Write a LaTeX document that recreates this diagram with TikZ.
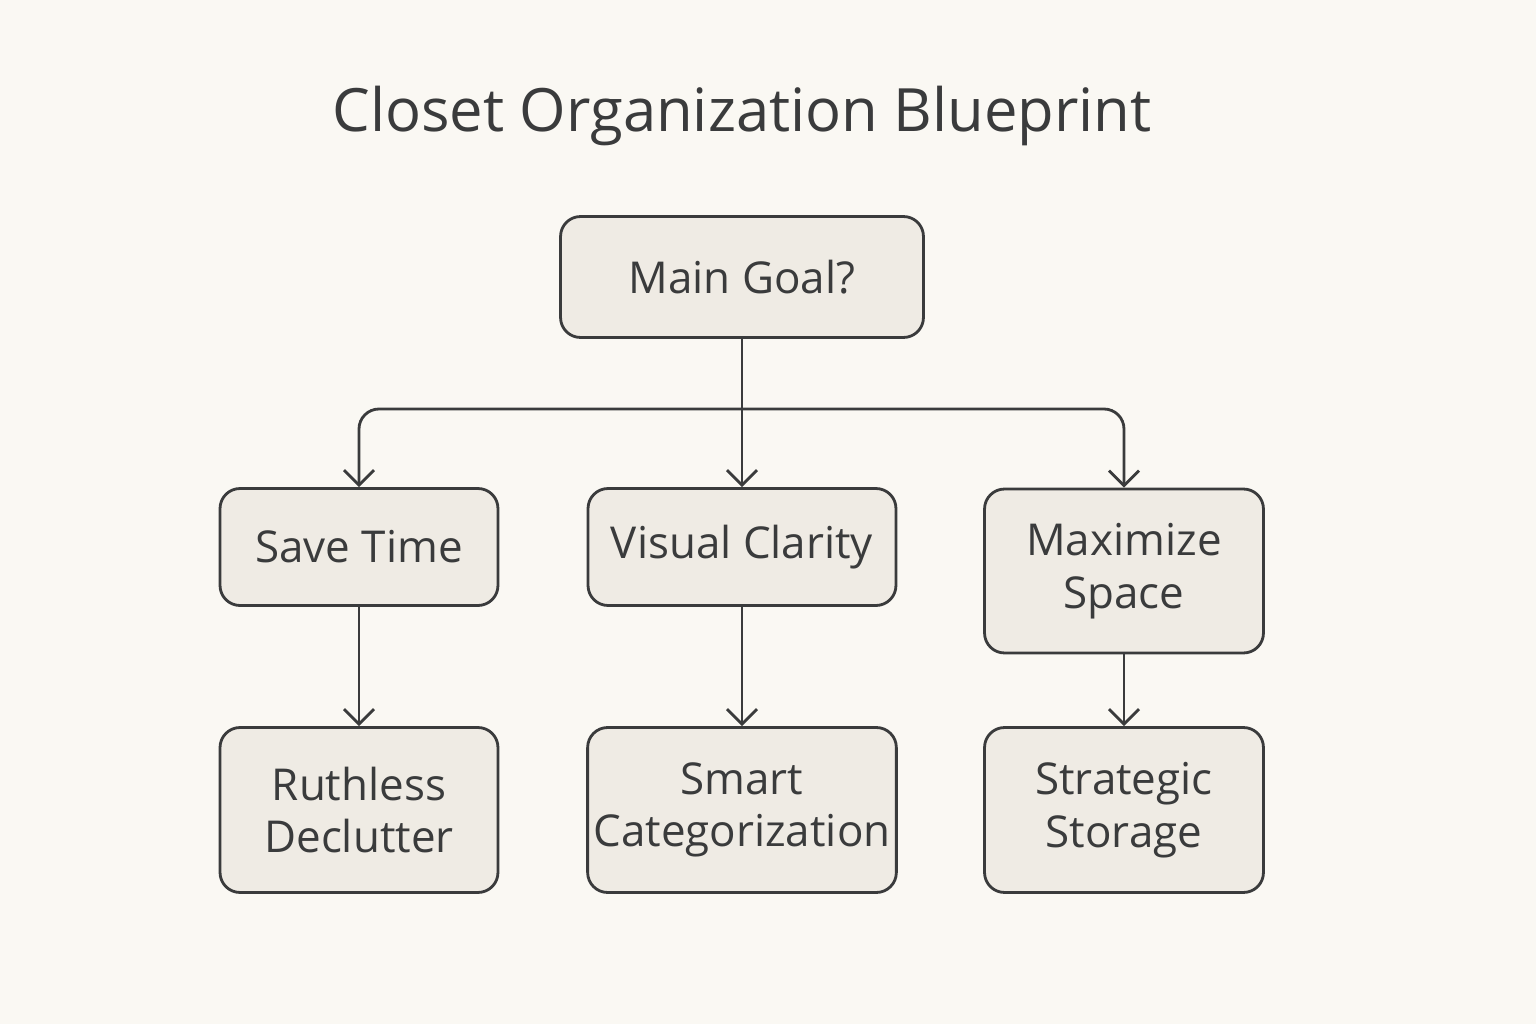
\documentclass[tikz,border=0pt]{standalone}
\usepackage{fontspec}
\setmainfont{Open Sans}
\usetikzlibrary{arrows.meta,positioning}
\definecolor{paper}{HTML}{FAF8F3}
\definecolor{boxfill}{HTML}{EFEBE4}
\definecolor{ink}{HTML}{3A3B3C}
\tikzset{
  box/.style={draw=ink,line width=1.6pt,fill=boxfill,rounded corners=0.4cm,
    text=ink,align=center,font=\fontsize{25}{30}\selectfont\addfontfeature{LetterSpace=0}},
  arr/.style={draw=ink,line width=1.6pt,-{Straight Barb[length=0.3cm,width=0.6cm]}}
}
\begin{document}
\begin{tikzpicture}[x=0.02cm,y=-0.02cm]
\fill[paper] (0,0) rectangle (1536,1024);
\useasboundingbox (0,0) rectangle (1536,1024);

\node[text=ink,font=\fontsize{34}{40}\selectfont] (title) at (742,116) {Closet Organization Blueprint};

\node[box,minimum width=7.26cm,minimum height=2.42cm] (main) at (742,277) {Main Goal?};
\node[box,minimum width=5.56cm,minimum height=2.34cm] (save) at (359,547) {Save Time};
\node[box,minimum width=6.16cm,minimum height=2.34cm] (visual) at (742,547) {Visual Clarity};
\node[box,minimum width=5.58cm,minimum height=3.28cm] (space) at (1124,571) {Maximize\\Space};
\node[box,minimum width=5.56cm,minimum height=3.3cm] (declutter) at (359,810) {Ruthless\\Declutter};
\node[box,minimum width=6.16cm,minimum height=3.3cm] (categ) at (742,810) {Smart\\Categorization};
\node[box,minimum width=5.58cm,minimum height=3.3cm] (storage) at (1124,810) {Strategic\\Storage};

\coordinate (split) at (742,409);
\draw[draw=ink,line width=1.6pt] (main) -- (split);
\draw[arr] (main) -- (visual);
\draw[arr,rounded corners=0.4cm] (split) -| (save);
\draw[arr,rounded corners=0.4cm] (split) -| (space);
\draw[arr] (save) -- (declutter);
\draw[arr] (visual) -- (categ);
\draw[arr] (space) -- (storage);
\end{tikzpicture}
\end{document}
